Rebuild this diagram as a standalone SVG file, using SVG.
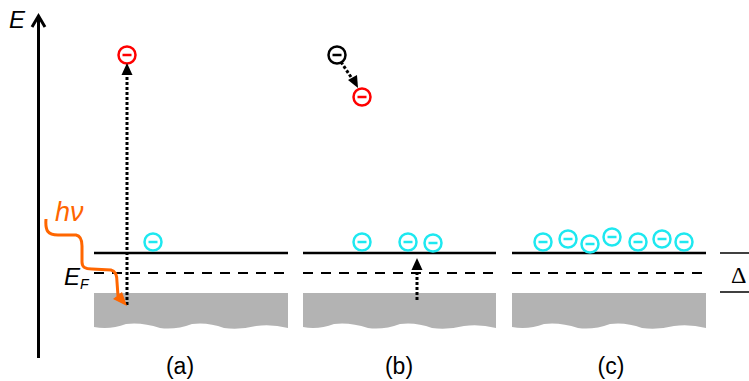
<svg xmlns="http://www.w3.org/2000/svg" width="749" height="381" viewBox="0 0 749 381">
  <style>
    .lvl { stroke: #000; stroke-width: 2.5; fill: none; }
    .ef { stroke: #000; stroke-width: 2; stroke-dasharray: 10 8; fill: none; }
    .band { fill: #b3b3b3; }
    .cy { stroke: #1ee8f0; }
    .rd { stroke: #ff0000; }
    .bk { stroke: #000; }
    .dot { stroke: #000; stroke-width: 3; stroke-dasharray: 3 2; fill: none; }
    .lab { font-family: "Liberation Sans", Arial, sans-serif; font-size: 23px; fill: #000; }
  </style>
  <defs>
    <!-- electron symbol: circled minus, stroke colour set per use -->
    <g id="e" stroke-width="2.5">
      <circle r="8.5" fill="#fff"/>
      <line x1="-4.5" y1="0" x2="4.5" y2="0"/>
    </g>
  </defs>

  <!-- energy axis -->
  <g id="axis">
    <line x1="38.5" y1="358" x2="38.5" y2="17" stroke="#000" stroke-width="3"/>
    <polyline points="32,27 38.5,16 45,27" fill="none" stroke="#000" stroke-width="3"/>
    <text x="9" y="28" font-family="'Liberation Sans', Arial, sans-serif" font-size="24" font-style="italic" fill="#000">E</text>
  </g>

  <!-- panel (a) -->
  <g id="panel-a">
    <path class="band" d="M94,293 H288 V328 Q272,324 256,326 Q240,330 224,328 Q208,322 192,324 Q176,330 160,328 Q142,322 126,324 Q110,330 94,327 Z"/>
    <line class="lvl" x1="94" y1="253" x2="288" y2="253"/>
    <line class="ef" x1="94" y1="273" x2="288" y2="273"/>
    <use href="#e" class="cy" x="153" y="242"/>
    <use href="#e" class="rd" x="127" y="55"/>
    <text class="lab" x="180" y="374" text-anchor="middle">(a)</text>
  </g>

  <!-- panel (b) -->
  <g id="panel-b">
    <path class="band" d="M303,293 H496 V328 Q480,324 464,326 Q448,330 432,328 Q416,322 400,324 Q384,330 368,328 Q350,322 334,324 Q318,330 303,327 Z"/>
    <line class="lvl" x1="303" y1="253" x2="496" y2="253"/>
    <line class="ef" x1="303" y1="273" x2="496" y2="273"/>
    <use href="#e" class="cy" x="362" y="242"/>
    <use href="#e" class="cy" x="408" y="242"/>
    <use href="#e" class="cy" x="433" y="243"/>
    <use href="#e" class="bk" x="337" y="55"/>
    <use href="#e" class="rd" x="362" y="97"/>
    <text class="lab" x="399" y="374" text-anchor="middle">(b)</text>
  </g>

  <!-- panel (c) -->
  <g id="panel-c">
    <path class="band" d="M512,293 H706 V328 Q690,324 674,326 Q658,330 642,328 Q626,322 610,324 Q594,330 578,328 Q560,322 544,324 Q528,330 512,327 Z"/>
    <line class="lvl" x1="512" y1="253" x2="706" y2="253"/>
    <line class="ef" x1="512" y1="273" x2="706" y2="273"/>
    <use href="#e" class="cy" x="543" y="242"/>
    <use href="#e" class="cy" x="568" y="239"/>
    <use href="#e" class="cy" x="590" y="244"/>
    <use href="#e" class="cy" x="612" y="237"/>
    <use href="#e" class="cy" x="638" y="242"/>
    <use href="#e" class="cy" x="662" y="239"/>
    <use href="#e" class="cy" x="684" y="242"/>
    <text class="lab" x="611" y="374" text-anchor="middle">(c)</text>
  </g>

  <!-- gap marker -->
  <g id="delta">
    <line x1="720" y1="253" x2="749" y2="253" stroke="#000" stroke-width="1.5"/>
    <line x1="720" y1="292" x2="749" y2="292" stroke="#000" stroke-width="1.5"/>
    <text x="731" y="283" font-family="'Liberation Serif', 'Times New Roman', serif" font-size="24" fill="#000">Δ</text>
  </g>

  <!-- Fermi level label -->
  <g id="fermi-label">
    <text x="64" y="285" font-family="'Liberation Sans', Arial, sans-serif" font-size="24" font-style="italic" fill="#000">E<tspan font-size="14" dy="4">F</tspan></text>
  </g>

  <!-- photon -->
  <g id="photon">
    <text x="55" y="221" font-family="'Liberation Sans', Arial, sans-serif" font-size="27" font-style="italic" fill="#ff6600">hν</text>
  </g>

  <!-- connectors -->
  <g id="connectors">
    <line class="dot" x1="127" y1="305" x2="127" y2="72"/>
    <polygon points="127,63 121.5,75 132.5,75" fill="#000"/>
    <line class="dot" x1="341" y1="62" x2="353" y2="80"/>
    <polygon points="358,88 348,80 357,75" fill="#000"/>
    <line class="dot" x1="417" y1="300" x2="417" y2="268"/>
    <polygon points="417,258 411.5,270 422.5,270" fill="#000"/>
    <path d="M46,219 C45,231 48,235 58,235 L76,235 C81,236 82,240 82,246 L82,262 C82,267 85,269 92,269 L111,270 C116,271 117,276 117,282 L118,296" fill="none" stroke="#ff6600" stroke-width="3"/>
    <polygon points="127,306 113,299 122,292" fill="#ff6600"/>
  </g>
</svg>
